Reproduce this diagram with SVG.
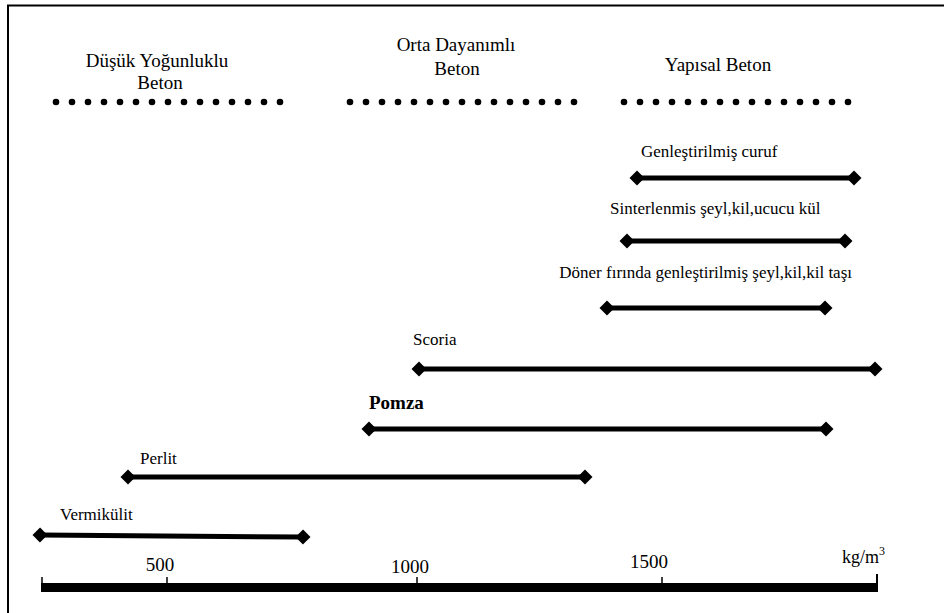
<svg xmlns="http://www.w3.org/2000/svg" width="944" height="613" viewBox="0 0 944 613" font-family="'Liberation Serif', 'Times New Roman', serif">
<style>
text{font-family:'Liberation Serif','Times New Roman',serif;fill:#000}
.hd{font-size:19px;text-anchor:middle}
.lb{font-size:17px}
.ax{font-size:19px;text-anchor:middle}
.bar{stroke:#000;stroke-width:5;fill:none;marker-start:url(#dm);marker-end:url(#dm)}
.dot{fill:#000}
.tk{stroke:#000;stroke-width:1.5}
</style>
<defs>
<marker id="dm" viewBox="-8 -8 16 16" markerUnits="userSpaceOnUse" markerWidth="16" markerHeight="16" refX="0" refY="0" orient="auto">
<path d="M-7.5,0 L0,-7.5 L7.5,0 L0,7.5 Z" fill="#000"/>
</marker>
<g id="row">
<circle cx="0" cy="0" r="3.3"/><circle cx="16" cy="0" r="3.3"/><circle cx="32" cy="0" r="3.3"/><circle cx="48" cy="0" r="3.3"/><circle cx="64" cy="0" r="3.3"/><circle cx="80" cy="0" r="3.3"/><circle cx="96" cy="0" r="3.3"/><circle cx="112" cy="0" r="3.3"/><circle cx="128" cy="0" r="3.3"/><circle cx="144" cy="0" r="3.3"/><circle cx="160" cy="0" r="3.3"/><circle cx="176" cy="0" r="3.3"/><circle cx="192" cy="0" r="3.3"/><circle cx="208" cy="0" r="3.3"/><circle cx="224" cy="0" r="3.3"/>
</g>
</defs>
<rect width="944" height="613" fill="#fff"/>
<path d="M8,613 V5.5 H944" fill="none" stroke="#000" stroke-width="2"/>

<g id="cat-low">
<text class="hd" x="157" y="67">Düşük Yoğunluklu</text>
<text class="hd" x="160" y="89">Beton</text>
<use href="#row" x="56" y="102" class="dot"/>
</g>
<g id="cat-mid">
<text class="hd" x="456" y="51">Orta Dayanımlı</text>
<text class="hd" x="457" y="75">Beton</text>
<use href="#row" x="350" y="102" class="dot"/>
</g>
<g id="cat-struct">
<text class="hd" x="718" y="71">Yapısal Beton</text>
<use href="#row" x="624" y="102" class="dot"/>
</g>

<g id="lbl-curuf"><text class="lb" x="641" y="157">Genleştirilmiş curuf</text></g>
<g id="lbl-sinter"><text class="lb" x="610" y="214">Sinterlenmis şeyl,kil,ucucu kül</text></g>
<g id="lbl-doner"><text class="lb" x="852" y="278" text-anchor="end">Döner fırında genleştirilmiş şeyl,kil,kil taşı</text></g>
<g id="lbl-scoria"><text class="lb" x="413" y="345">Scoria</text></g>
<g id="lbl-pomza"><text x="369" y="409" style="font-size:19px;font-weight:bold">Pomza</text></g>
<g id="lbl-perlit"><text class="lb" x="140" y="464">Perlit</text></g>
<g id="lbl-verm"><text class="lb" x="60" y="520">Vermikülit</text></g>

<g id="connectors">
<line class="bar" x1="637" y1="178" x2="854" y2="178"/>
<line class="bar" x1="627" y1="241" x2="845" y2="241"/>
<line class="bar" x1="607" y1="308" x2="825" y2="308"/>
<line class="bar" x1="419" y1="369" x2="875" y2="369"/>
<line class="bar" x1="369" y1="429" x2="826" y2="429"/>
<line class="bar" x1="128" y1="477" x2="585" y2="477"/>
<line class="bar" x1="40" y1="535" x2="303" y2="537"/>
</g>

<g id="axis">
<rect x="41" y="583" width="837" height="9" fill="#000"/>
<line class="tk" x1="42" y1="577" x2="42" y2="583"/>
<line class="tk" x1="167" y1="577" x2="167" y2="583"/>
<line class="tk" x1="417" y1="577" x2="417" y2="583"/>
<line class="tk" x1="662" y1="577" x2="662" y2="583"/>
<line x1="877" y1="574" x2="877" y2="583" stroke="#000" stroke-width="2"/>
<text class="ax" x="160" y="571">500</text>
<text class="ax" x="410" y="573">1000</text>
<text class="ax" x="649" y="568">1500</text>
<text x="842" y="563" style="font-size:18px">kg/m<tspan dy="-8" style="font-size:12px">3</tspan></text>
</g>
</svg>
